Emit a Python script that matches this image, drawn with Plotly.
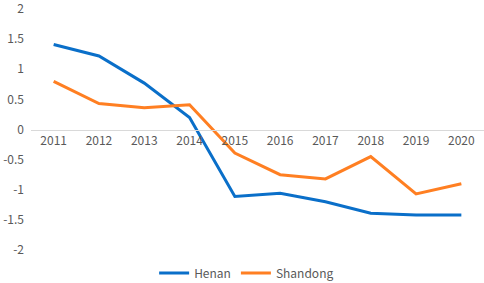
import plotly.graph_objects as go

years = ["2011", "2012", "2013", "2014", "2015", "2016", "2017", "2018", "2019", "2020"]
henan = [1.41, 1.22, 0.77, 0.20, -1.11, -1.06, -1.20, -1.39, -1.42, -1.42]
shandong = [0.80, 0.43, 0.36, 0.41, -0.39, -0.75, -0.82, -0.45, -1.07, -0.90]
y_ticks = [2, 1.5, 1, 0.5, 0, -0.5, -1, -1.5, -2]

font = dict(family="Noto Sans CJK SC, Noto Sans, sans-serif", size=12, color="#595959")

fig = go.Figure()
fig.add_trace(go.Scatter(x=years, y=henan, mode="lines", name="Henan",
                         line=dict(color="#0A6FC9", width=3)))
fig.add_trace(go.Scatter(x=years, y=shandong, mode="lines", name="Shandong",
                         line=dict(color="#FF7F22", width=3)))

fig.update_layout(
    width=484, height=283,
    margin=dict(l=31, r=0, t=9, b=33, autoexpand=False),
    paper_bgcolor="white", plot_bgcolor="white",
    font=font,
    showlegend=True,
    legend=dict(orientation="h", x=0.476, xanchor="center", y=-0.095, yanchor="middle",
                font=dict(size=12, color="#595959"), itemwidth=30),
    xaxis=dict(type="category", range=[-0.5, 9.5], showgrid=False, automargin=False,
               showline=True, linecolor="#D9D9D9", linewidth=1,
               anchor="free", position=0.5, ticks="", tickfont=font, zeroline=False),
    yaxis=dict(range=[-2, 2], tickvals=y_ticks, ticktext=[str(v) for v in y_ticks],
               showgrid=False, zeroline=False, showline=False, ticks="", automargin=False,
               ticklabeloverflow="allow", ticklabelstandoff=6, tickfont=font),
)

fig.write_html("out.html", config={"displayModeBar": False},
               post_script="document.body.style.margin='0';document.body.style.overflow='hidden';")
